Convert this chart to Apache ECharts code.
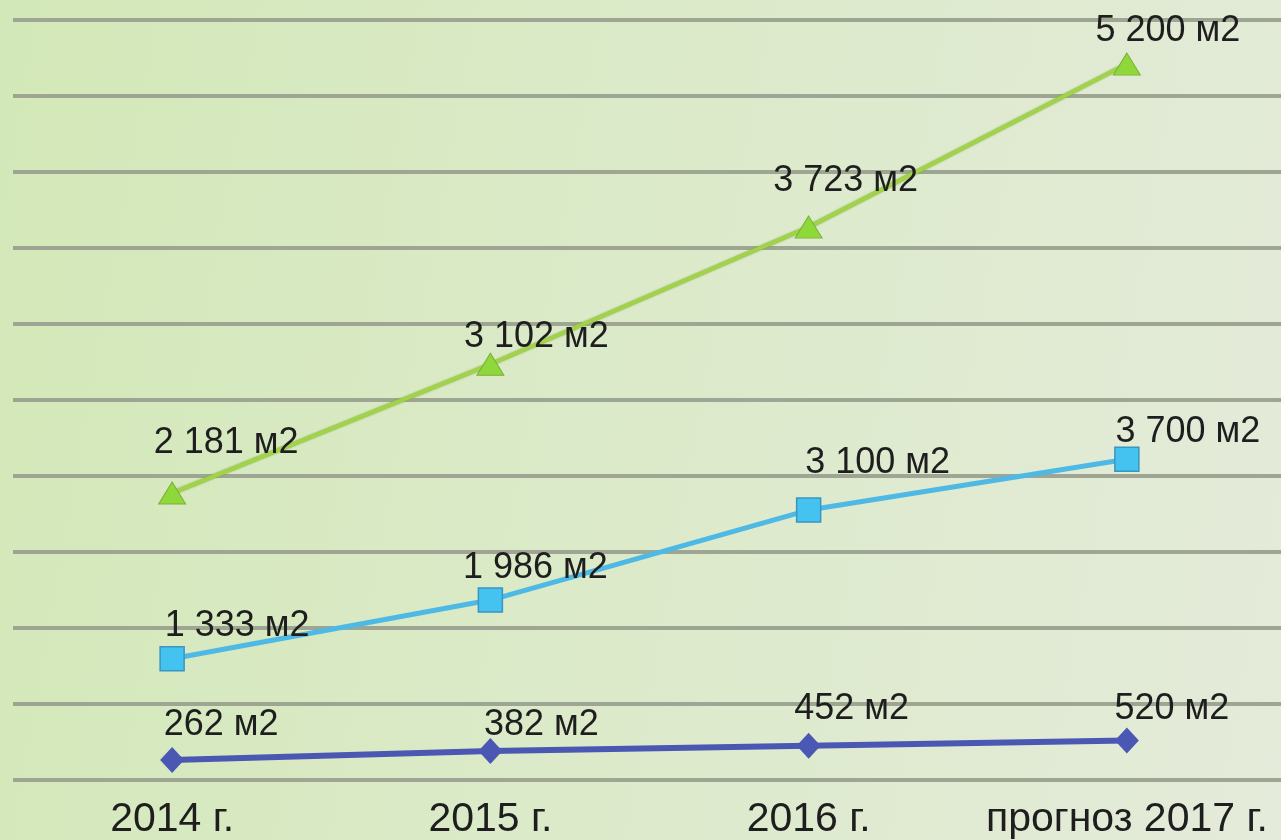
<!DOCTYPE html>
<html>
<head>
<meta charset="utf-8">
<script src="https://cdn.jsdelivr.net/npm/echarts@6/dist/echarts.min.js"></script>
<style>
  html, body { margin: 0; padding: 0; overflow: hidden; }
  body {
    width: 1281px;
    height: 840px;
    background: linear-gradient(100deg, #d3e8b8 0%, #dbeac8 45%, #e4ebda 100%);
  }
  /* chart is a bit wider than the window: the last band runs off the right edge */
  #chart { width: 1300px; height: 840px; }
</style>
</head>
<body>
<div id="chart"></div>
<script>
// categories on the x axis
const years = ["2014 г.", "2015 г.", "2016 г.", "прогноз 2017 г."];

// stacked series, bottom to top (m2)
const seriesLow = [262, 382, 452, 520];
const seriesMid = [1333, 1986, 3100, 3700];
const seriesTop = [2181, 3102, 3723, 5200];

// hidden value axis: 0..10000 step 1000
const yMin = 0;
const yMax = 10000;
const yStep = 1000;

// where each value label sits relative to its point (px)
const shiftLow = [[49, -35], [51, -26], [43, -37], [45, -31]];
const shiftMid = [[65, -33], [45, -32], [69, -47], [61, -27]];
const shiftTop = [[54, -50], [46, -27], [37, -46], [41, -33]];

const fmtArea = (v) =>
  String(v).replace(/\B(?=(\d{3})+(?!\d))/g, " ") + " м2";

const withLabels = (values, shifts) =>
  values.map((v, i) => ({
    value: v,
    label: { offset: shifts[i] },
  }));

const labelStyle = {
  show: true,
  position: "inside",
  fontFamily: "Liberation Sans, Arial, sans-serif",
  fontSize: 36,
  color: "#1e1e1e",
  formatter: (p) => fmtArea(p.value),
};

const chart = echarts.init(document.getElementById("chart"));

const option = {
  backgroundColor: "transparent",
  animation: false,
  grid: {
    left: 13,
    width: 1273,
    top: 20,
    bottom: 60,
  },
  xAxis: {
    type: "category",
    data: years,
    boundaryGap: true,
    axisLine: { show: false },
    axisTick: { show: false },
    axisLabel: {
      margin: 19,
      fontFamily: "Liberation Sans, Arial, sans-serif",
      fontSize: 41,
      color: "#1e1e1e",
      interval: 0,
    },
  },
  yAxis: {
    type: "value",
    min: yMin,
    max: yMax,
    interval: yStep,
    axisLine: { show: false },
    axisTick: { show: false },
    axisLabel: { show: false },
    splitLine: {
      lineStyle: { color: "#9ea592", width: 4 },
    },
  },
  series: [
    {
      name: "low",
      type: "line",
      stack: "total",
      data: withLabels(seriesLow, shiftLow),
      symbol: "diamond",
      symbolSize: [24, 26],
      lineStyle: { color: "#4a58b4", width: 6 },
      itemStyle: { color: "#4a58b4" },
      label: labelStyle,
      z: 3,
    },
    {
      name: "mid",
      type: "line",
      stack: "total",
      data: withLabels(seriesMid, shiftMid),
      symbol: "rect",
      symbolSize: 24,
      lineStyle: { color: "#4fb9e6", width: 5 },
      itemStyle: { color: "#45c3f0", borderColor: "#3a95c0", borderWidth: 1.5 },
      label: labelStyle,
      z: 3,
    },
    {
      name: "top",
      type: "line",
      stack: "total",
      data: withLabels(seriesTop, shiftTop),
      symbol: "triangle",
      symbolSize: [27, 22],
      lineStyle: {
        color: "#a2d24a",
        width: 4,
        shadowColor: "#7aa838",
        shadowBlur: 2,
      },
      itemStyle: { color: "#8fd83a", borderColor: "#7ab03a", borderWidth: 1 },
      label: labelStyle,
      z: 3,
    },
  ],
};

chart.setOption(option);
</script>
</body>
</html>
